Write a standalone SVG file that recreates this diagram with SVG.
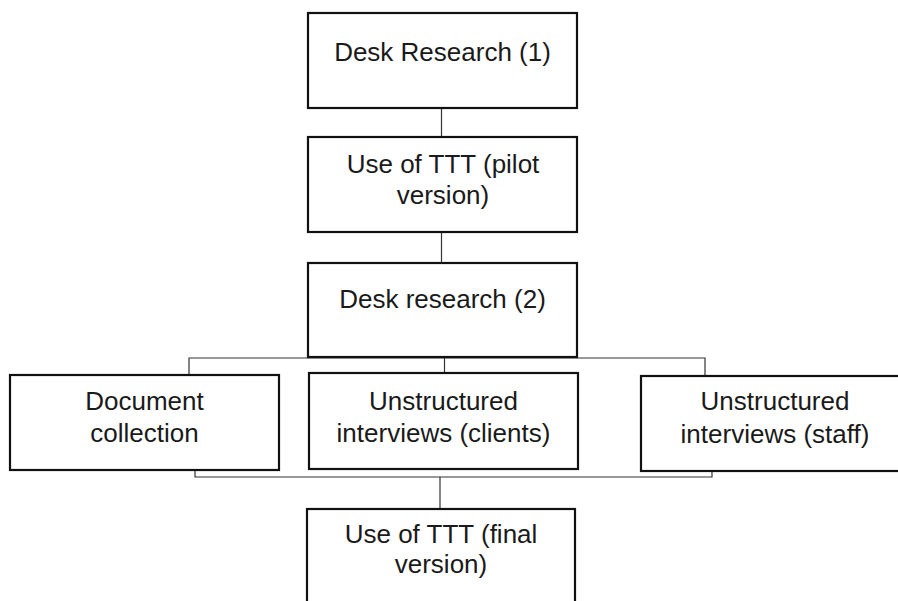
<svg xmlns="http://www.w3.org/2000/svg" width="898" height="601" viewBox="0 0 898 601">
<style>
.box{fill:#fff;stroke:#111;stroke-width:2.2}
.lbl{font-family:"Liberation Sans",Arial,sans-serif;font-size:26px;fill:#1a1a1a;text-anchor:middle}
.con{fill:none;stroke:#333;stroke-width:1.2}
</style>
<rect width="898" height="601" fill="#fff"/>
<g id="connectors">
<path class="con" d="M441.5 106V137"/>
<path class="con" d="M441.5 229V263"/>
<path class="con" d="M444.5 342V373"/>
<path class="con" d="M189 375V358H705V376"/>
<path class="con" d="M195 455V477H712V455"/>
<path class="con" d="M440 477V509"/>
</g>
<g id="n1"><rect class="box" x="308" y="13" width="269" height="95"/><text class="lbl" x="442.5" y="61">Desk Research (1)</text></g>
<g id="n2"><rect class="box" x="308" y="137" width="269" height="95"/><text class="lbl" x="443" y="173">Use of TTT (pilot</text><text class="lbl" x="443" y="204">version)</text></g>
<g id="n3"><rect class="box" x="308" y="263" width="269" height="94"/><text class="lbl" x="442.5" y="308">Desk research (2)</text></g>
<g id="n4"><rect class="box" x="10" y="375" width="269" height="95"/><text class="lbl" x="144.5" y="410">Document</text><text class="lbl" x="144.5" y="442">collection</text></g>
<g id="n5"><rect class="box" x="309" y="373" width="269" height="96"/><text class="lbl" x="443.5" y="410">Unstructured</text><text class="lbl" x="443.5" y="442">interviews (clients)</text></g>
<g id="n6"><rect class="box" x="641" y="376" width="269" height="95"/><text class="lbl" x="775" y="410">Unstructured</text><text class="lbl" x="775" y="443">interviews (staff)</text></g>
<g id="n7"><rect class="box" x="307" y="509" width="268" height="96"/><text class="lbl" x="441" y="543">Use of TTT (final</text><text class="lbl" x="441" y="573">version)</text></g>
</svg>
